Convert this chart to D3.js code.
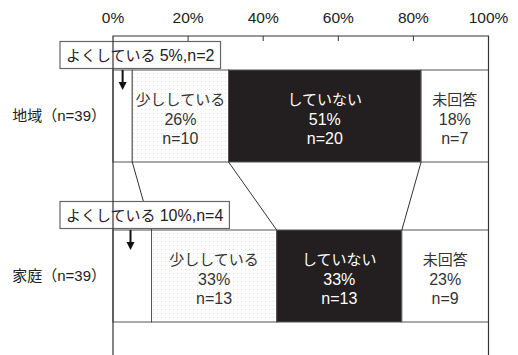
<!DOCTYPE html>
<html><head><meta charset="utf-8">
<script src="https://cdn.jsdelivr.net/npm/d3@7"></script>
<style>
html,body{margin:0;padding:0;background:#fff;}
svg{display:block;font-family:"Liberation Sans","Noto Sans CJK JP",Arial,sans-serif;}
</style></head>
<body>
<svg id="chart" width="518" height="355"></svg>
<script>
const categories = ["地域（n=39）", "家庭（n=39）"];
const totals = [39, 39];
const segments = ["よくしている", "少ししている", "していない", "未回答"];
const counts = [
  [2, 10, 20, 7],
  [4, 13, 13, 9]
];
const pctLabels = [
  [5, 26, 51, 18],
  [10, 33, 33, 23]
];
const tickValues = [0, 20, 40, 60, 80, 100];

const svg = d3.select("#chart");
const mLeft = 113, mRight = 488.5, mTop = 36, mBottom = 356;

const x = d3.scaleLinear().domain([0, 100]).range([mLeft, mRight]);
const y = d3.scaleBand().domain(categories).range([mTop, mBottom])
  .paddingInner(0.425).paddingOuter(0.2125);

const defs = svg.append("defs");
const pat = defs.append("pattern").attr("id", "dots")
  .attr("patternUnits", "userSpaceOnUse").attr("width", 4).attr("height", 4);
pat.append("rect").attr("width", 4).attr("height", 4).attr("fill", "#fff");
pat.append("rect").attr("x", 1).attr("y", 1).attr("width", 1).attr("height", 1).attr("fill", "#e0e0e0");

const fills = ["#fff", "url(#dots)", "#231f20", "#fff"];
const textColors = ["#222", "#333", "#fff", "#333"];

// compute stacked data
const stacked = categories.map((c, i) => {
  let acc = 0;
  return counts[i].map((n, j) => {
    const v = n / totals[i] * 100;
    const d = {cat: c, i, j, x0: acc, x1: acc + v, n, pct: pctLabels[i][j]};
    acc += v;
    return d;
  });
});

// bars
stacked.forEach(row => {
  svg.append("g").selectAll("rect").data(row).join("rect")
    .attr("x", d => x(d.x0)).attr("y", d => y(d.cat))
    .attr("width", d => x(d.x1) - x(d.x0)).attr("height", y.bandwidth())
    .attr("fill", (d) => fills[d.j])
    .attr("stroke", "#555").attr("stroke-width", 1);
});

// connector lines
const conn = svg.append("g");
for (let k = 0; k < 3; k++) {
  const a = stacked[0][k], b = stacked[1][k];
  conn.append("line")
    .attr("x1", x(a.x1)).attr("y1", y(categories[0]) + y.bandwidth())
    .attr("x2", x(b.x1)).attr("y2", y(categories[1]))
    .attr("stroke", "#333").attr("stroke-width", 1);
}

// segment labels (segments 1..3)
stacked.forEach(row => {
  const g = svg.append("g");
  row.filter(d => d.j > 0).forEach(d => {
    const cx = (x(d.x0) + x(d.x1)) / 2;
    const cy = y(d.cat) + y.bandwidth() / 2;
    const lines = [segments[d.j], d.pct + "%", "n=" + d.n];
    lines.forEach((t, li) => {
      g.append("text").attr("x", cx).attr("y", cy - 11 + li * 19.5)
        .attr("text-anchor", "middle").attr("font-size", li === 0 ? 15 : 16)
        .attr("fill", textColors[d.j]).text(t);
    });
  });
});

// callout boxes for first segment + arrows
stacked.forEach((row, i) => {
  const d = row[0];
  const by = y(d.cat);
  const g = svg.append("g");
  const txt = g.append("text").attr("x", 66).attr("y", by - 9)
    .attr("font-size", 15).attr("fill", "#222");
  txt.append("tspan").text(segments[0] + " ");
  txt.append("tspan").attr("font-size", 16).text(d.pct + "%,n=" + d.n);
  const bb = txt.node().getBBox();
  g.insert("rect", "text").attr("x", 60).attr("y", by - 28.5)
    .attr("width", bb.width + 12).attr("height", 27)
    .attr("fill", "#fff").attr("stroke", "#666").attr("stroke-width", 1.2);
  const ax = i === 0 ? (x(d.x0) + x(d.x1)) / 2 : x(d.x1) - 21;
  g.append("line").attr("x1", ax).attr("x2", ax)
    .attr("y1", by).attr("y2", by + 13)
    .attr("stroke", "#111").attr("stroke-width", 2);
  g.append("path")
    .attr("d", `M${ax - 4},${by + 12} L${ax + 4},${by + 12} L${ax},${by + 20} Z`)
    .attr("fill", "#111");
});

// category labels
svg.append("g").selectAll("text").data(categories).join("text")
  .attr("x", 106).attr("y", d => y(d) + y.bandwidth() / 2 + 5)
  .attr("text-anchor", "end").attr("font-size", 15).attr("fill", "#222")
  .text(d => d);

// frame
const frame = svg.append("g").attr("stroke", "#333").attr("stroke-width", 1.2).attr("fill", "none");
frame.append("path").attr("d", `M${mLeft},${mBottom} V${mTop} H${mRight} V${mBottom}`);

// top axis ticks and labels
const axis = svg.append("g");
axis.selectAll("line").data(tickValues.slice(1, -1)).join("line")
  .attr("x1", d => x(d)).attr("x2", d => x(d))
  .attr("y1", mTop).attr("y2", mTop + 5)
  .attr("stroke", "#333").attr("stroke-width", 1);
axis.selectAll("text").data(tickValues).join("text")
  .attr("x", d => x(d)).attr("y", 23)
  .attr("text-anchor", "middle").attr("font-size", 15.5).attr("fill", "#222")
  .text(d => d + "%");
</script>
</body></html>
